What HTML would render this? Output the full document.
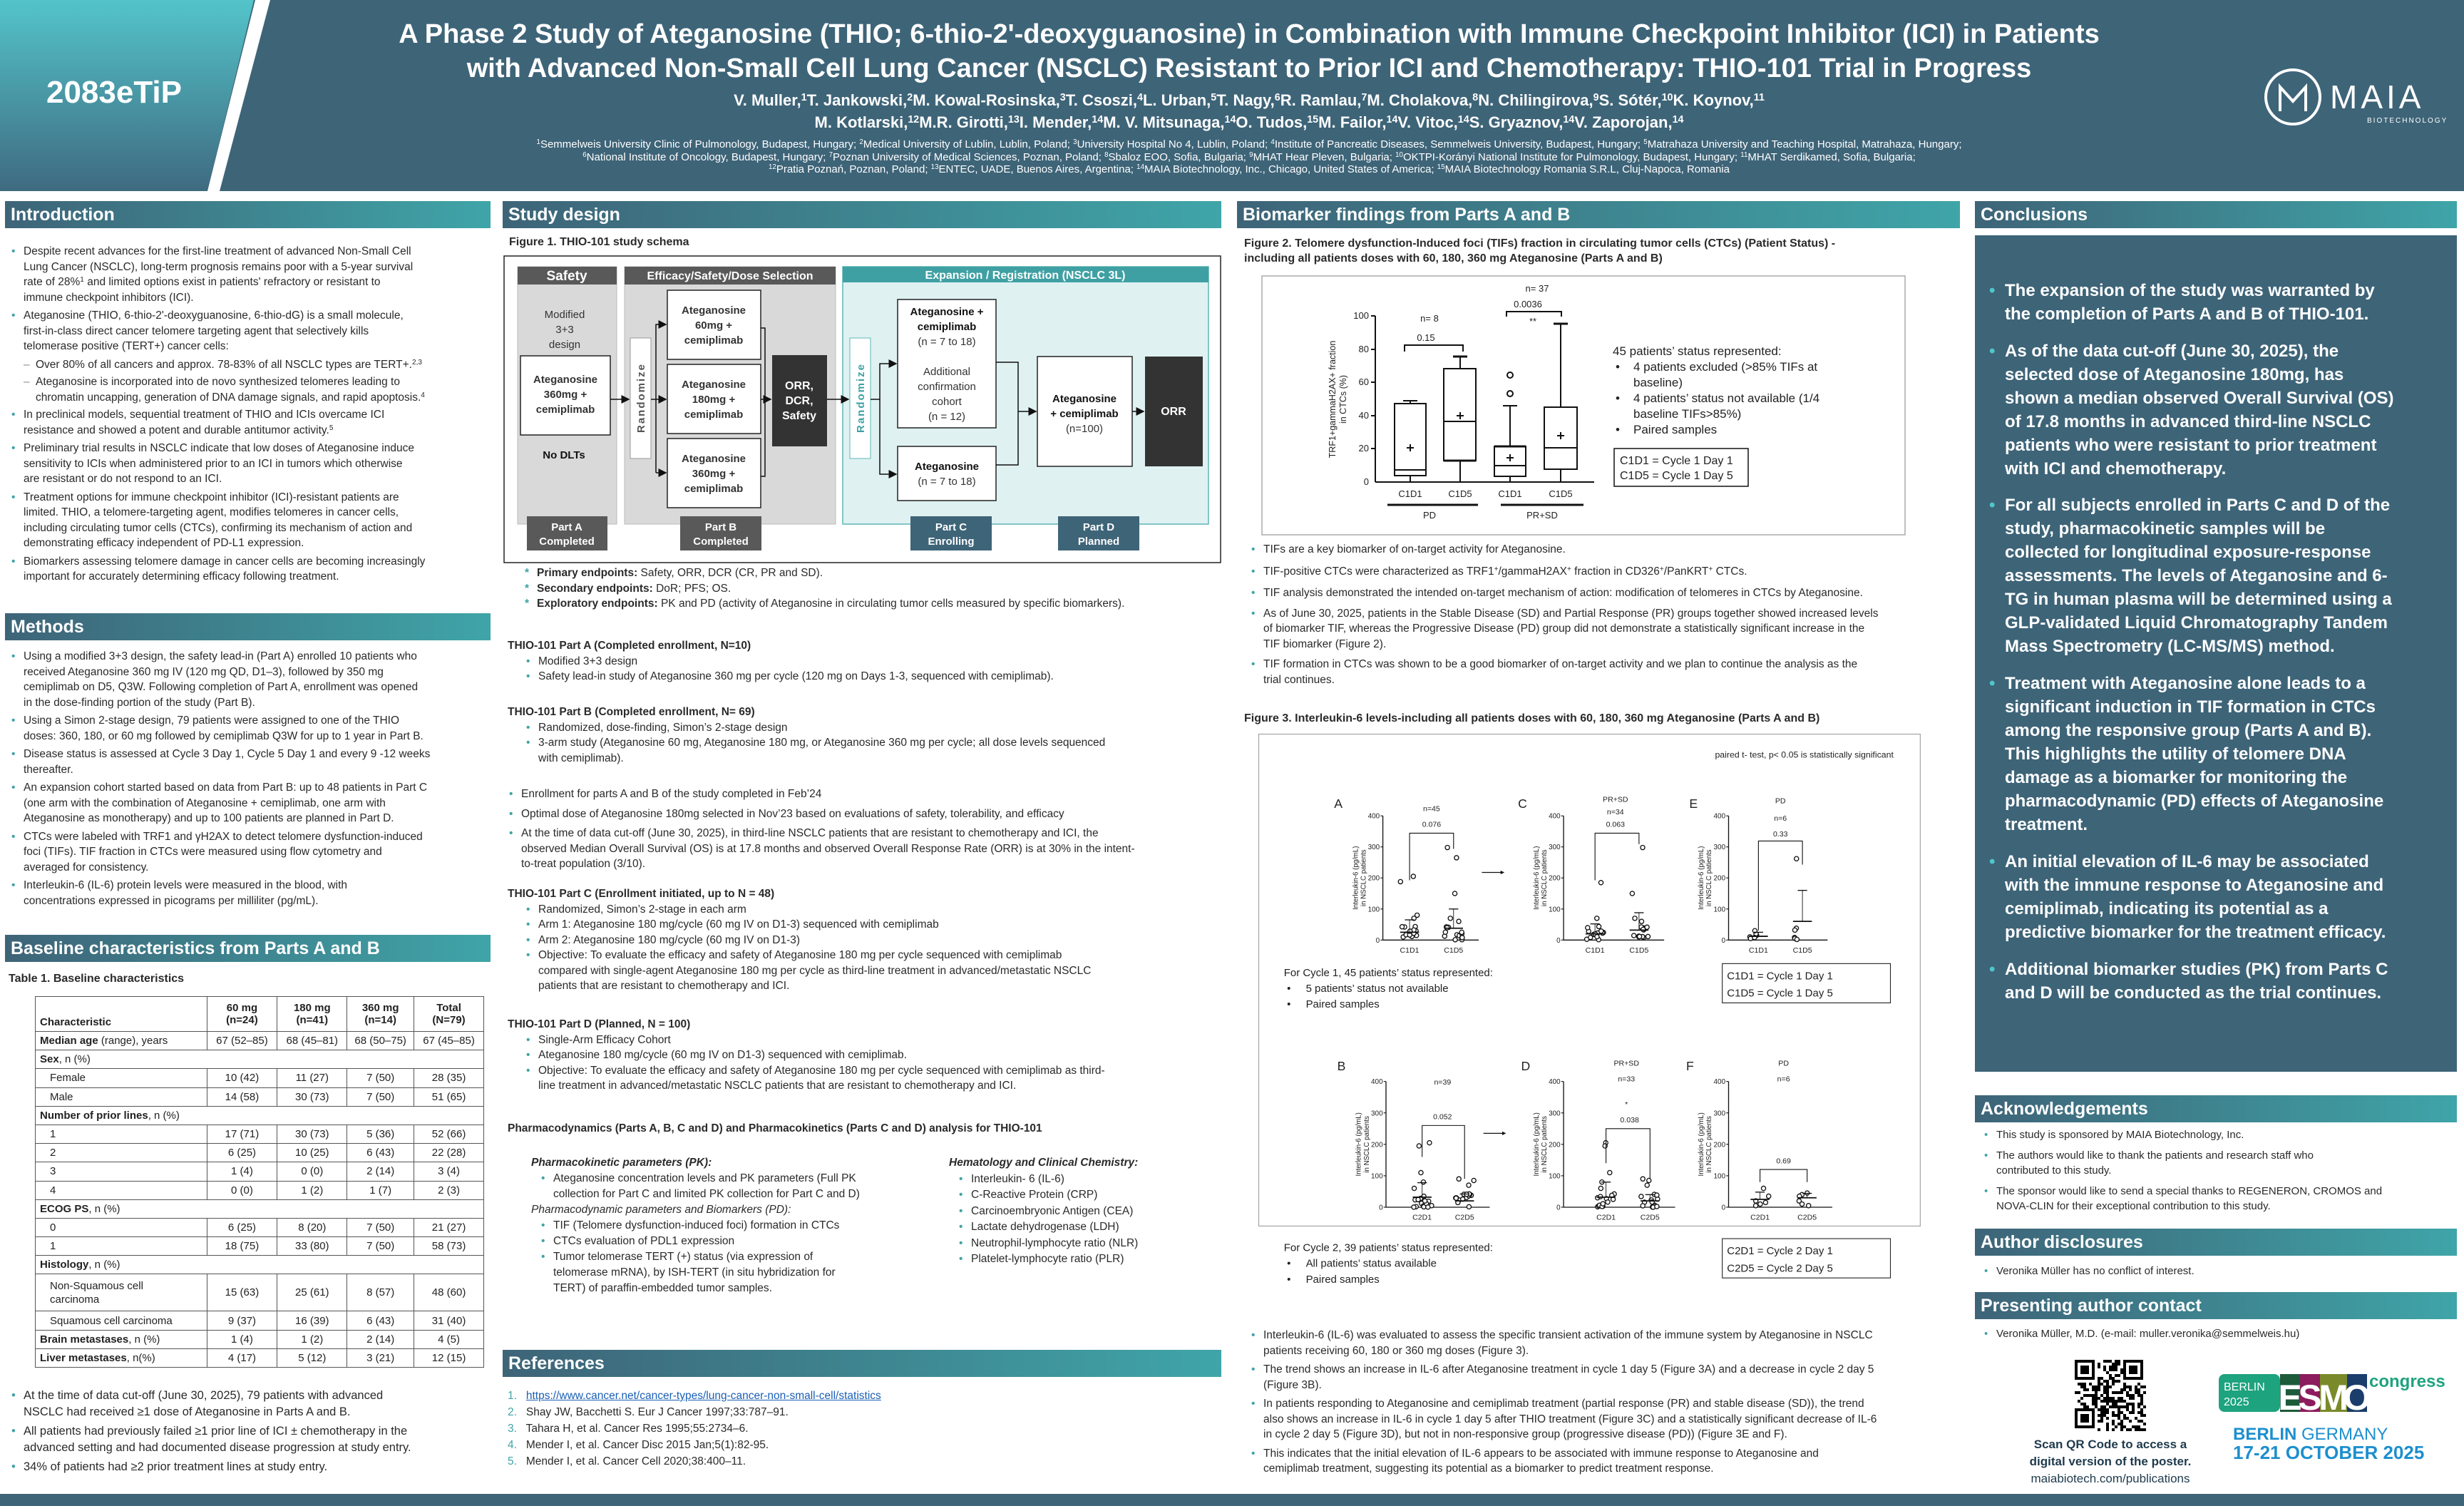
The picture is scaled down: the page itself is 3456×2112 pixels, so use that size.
<!DOCTYPE html>
<html><head><meta charset="utf-8">
<style>
*{margin:0;padding:0;box-sizing:border-box}
body{width:3456px;height:2112px;position:relative;background:#fff;overflow:hidden;font-family:"Liberation Sans",sans-serif;color:#222}
sup{font-size:0.65em;line-height:0;vertical-align:0.5em}
.abs{position:absolute}
.hd{position:absolute;height:38px;background:linear-gradient(90deg,#3e6478,#3fa5a8);color:#fff;font:bold 25px/38px "Liberation Sans",sans-serif;padding-left:8px}
.t{position:absolute;font-size:15.5px;line-height:21.5px;white-space:nowrap;color:#2a2a2a}
.b{padding-left:17px;text-indent:-17px;margin-bottom:4px}
.b::before{content:"•";color:#3fa3a6;display:inline-block;width:17px;text-indent:0}
.s{padding-left:34px;text-indent:-17px;margin-bottom:3px}
.s::before{content:"–";color:#888;display:inline-block;width:17px;text-indent:0}
.bh{font-weight:bold}
.st{padding-left:17px;text-indent:-17px}
.st::before{content:"*";color:#3fa3a6;font-weight:bold;display:inline-block;width:17px;text-indent:0}
.cl{position:absolute;left:2790px;color:#fff;font:bold 24px/33px "Liberation Sans",sans-serif;white-space:nowrap;padding-left:22px;text-indent:-22px}
.cl::before{content:"•";color:#4fc6cc;display:inline-block;width:22px;text-indent:0}
table{border-collapse:collapse;font-size:15px}
td{border:1.5px solid #555;height:26.2px;padding:0 6px;white-space:nowrap}
td.c{text-align:center}
</style></head><body>

<!-- HEADER -->
<div class="abs" style="left:0;top:0;width:3456px;height:268px;background:#3e6478"></div>
<svg class="abs" style="left:0;top:0" width="400" height="268">
<defs><linearGradient id="tg" x1="0" y1="0" x2="0" y2="1"><stop offset="0" stop-color="#53c4ca"/><stop offset="1" stop-color="#3f6a80"/></linearGradient></defs>
<polygon points="0,0 356,0 291,268 0,268" fill="url(#tg)"/>
<polygon points="358,0 379,0 308,268 291,268" fill="#fff"/>
</svg>
<div class="abs" style="left:0;top:104px;width:320px;text-align:center;color:#fff;font:bold 44px/52px 'Liberation Sans',sans-serif">2083eTiP</div>
<div class="abs" style="left:380px;top:24px;width:2744px;text-align:center;color:#fff;font:bold 38px/48px 'Liberation Sans',sans-serif;white-space:nowrap">A Phase 2 Study of Ateganosine (THIO; 6-thio-2'-deoxyguanosine) in Combination with Immune Checkpoint Inhibitor (ICI) in Patients<br>with Advanced Non-Small Cell Lung Cancer (NSCLC) Resistant to Prior ICI and Chemotherapy: THIO-101 Trial in Progress</div>
<div class="abs" style="left:380px;top:125px;width:2744px;text-align:center;color:#fff;font:bold 22px/31px 'Liberation Sans',sans-serif;white-space:nowrap">V. Muller,<sup>1</sup>T. Jankowski,<sup>2</sup>M. Kowal-Rosinska,<sup>3</sup>T. Csoszi,<sup>4</sup>L. Urban,<sup>5</sup>T. Nagy,<sup>6</sup>R. Ramlau,<sup>7</sup>M. Cholakova,<sup>8</sup>N. Chilingirova,<sup>9</sup>S. Sótér,<sup>10</sup>K. Koynov,<sup>11</sup><br>M. Kotlarski,<sup>12</sup>M.R. Girotti,<sup>13</sup>I. Mender,<sup>14</sup>M. V. Mitsunaga,<sup>14</sup>O. Tudos,<sup>15</sup>M. Failor,<sup>14</sup>V. Vitoc,<sup>14</sup>S. Gryaznov,<sup>14</sup>V. Zaporojan,<sup>14</sup></div>
<div class="abs" style="left:380px;top:194px;width:2744px;text-align:center;color:#fff;font:15px/17.5px 'Liberation Sans',sans-serif;white-space:nowrap"><sup>1</sup>Semmelweis University Clinic of Pulmonology, Budapest, Hungary; <sup>2</sup>Medical University of Lublin, Lublin, Poland; <sup>3</sup>University Hospital No 4, Lublin, Poland; <sup>4</sup>Institute of Pancreatic Diseases, Semmelweis University, Budapest, Hungary; <sup>5</sup>Matrahaza University and Teaching Hospital, Matrahaza, Hungary;<br><sup>6</sup>National Institute of Oncology, Budapest, Hungary; <sup>7</sup>Poznan University of Medical Sciences, Poznan, Poland; <sup>8</sup>Sbaloz EOO, Sofia, Bulgaria; <sup>9</sup>MHAT Hear Pleven, Bulgaria; <sup>10</sup>OKTPI-Korányi National Institute for Pulmonology, Budapest, Hungary; <sup>11</sup>MHAT Serdikamed, Sofia, Bulgaria;<br><sup>12</sup>Pratia Poznań, Poznan, Poland; <sup>13</sup>ENTEC, UADE, Buenos Aires, Argentina; <sup>14</sup>MAIA Biotechnology, Inc., Chicago, United States of America; <sup>15</sup>MAIA Biotechnology Romania S.R.L, Cluj-Napoca, Romania</div>
<svg class="abs" style="left:3170px;top:92px" width="270" height="90">
<circle cx="46" cy="44" r="38" fill="none" stroke="#fff" stroke-width="4"/>
<path d="M28 64 V30 L46 50 L64 30 V64" fill="none" stroke="#fff" stroke-width="4"/>
<text x="98" y="60" fill="#fff" font-family="Liberation Sans" font-size="46" letter-spacing="5">MAIA</text>
<text x="150" y="80" fill="#fff" font-family="Liberation Sans" font-size="10" letter-spacing="2">BIOTECHNOLOGY</text>
</svg>

<!-- SECTION HEADERS -->
<div class="hd" style="left:7px;top:282px;width:681px">Introduction</div>
<div class="hd" style="left:705px;top:282px;width:1008px">Study design</div>
<div class="hd" style="left:1735px;top:282px;width:1014px">Biomarker findings from Parts A and B</div>
<div class="hd" style="left:2770px;top:282px;width:676px">Conclusions</div>
<div class="hd" style="left:7px;top:860px;width:681px">Methods</div>
<div class="hd" style="left:7px;top:1311px;width:681px">Baseline characteristics from Parts A and B</div>
<div class="hd" style="left:705px;top:1893px;width:1008px">References</div>
<div class="hd" style="left:2770px;top:1536px;width:676px">Acknowledgements</div>
<div class="hd" style="left:2770px;top:1723px;width:676px">Author disclosures</div>
<div class="hd" style="left:2770px;top:1812px;width:676px">Presenting author contact</div>

<!-- COL 1 -->
<div class="t" style="left:16px;top:342px">
<div class="b">Despite recent advances for the first-line treatment of advanced Non-Small Cell<br>Lung Cancer (NSCLC), long-term prognosis remains poor with a 5-year survival<br>rate of 28%<sup>1</sup> and limited options exist in patients' refractory or resistant to<br>immune checkpoint inhibitors (ICI).</div>
<div class="b">Ateganosine (THIO, 6-thio-2'-deoxyguanosine, 6-thio-dG) is a small molecule,<br>first-in-class direct cancer telomere targeting agent that selectively kills<br>telomerase positive (TERT+) cancer cells:</div>
<div class="s">Over 80% of all cancers and approx. 78-83% of all NSCLC types are TERT+.<sup>2,3</sup></div>
<div class="s">Ateganosine is incorporated into de novo synthesized telomeres leading to<br>chromatin uncapping, generation of DNA damage signals, and rapid apoptosis.<sup>4</sup></div>
<div class="b">In preclinical models, sequential treatment of THIO and ICIs overcame ICI<br>resistance and showed a potent and durable antitumor activity.<sup>5</sup></div>
<div class="b">Preliminary trial results in NSCLC indicate that low doses of Ateganosine induce<br>sensitivity to ICIs when administered prior to an ICI in tumors which otherwise<br>are resistant or do not respond to an ICI.</div>
<div class="b">Treatment options for immune checkpoint inhibitor (ICI)-resistant patients are<br>limited. THIO, a telomere-targeting agent, modifies telomeres in cancer cells,<br>including circulating tumor cells (CTCs), confirming its mechanism of action and<br>demonstrating efficacy independent of PD-L1 expression.</div>
<div class="b">Biomarkers assessing telomere damage in cancer cells are becoming increasingly<br>important for accurately determining efficacy following treatment.</div>
</div>
<div class="t" style="left:16px;top:910px">
<div class="b">Using a modified 3+3 design, the safety lead-in (Part A) enrolled 10 patients who<br>received Ateganosine 360 mg IV (120 mg QD, D1–3), followed by 350 mg<br>cemiplimab on D5, Q3W. Following completion of Part A, enrollment was opened<br>in the dose-finding portion of the study (Part B).</div>
<div class="b">Using a Simon 2-stage design, 79 patients were assigned to one of the THIO<br>doses: 360, 180, or 60 mg followed by cemiplimab Q3W for up to 1 year in Part B.</div>
<div class="b">Disease status is assessed at Cycle 3 Day 1, Cycle 5 Day 1 and every 9 -12 weeks<br>thereafter.</div>
<div class="b">An expansion cohort started based on data from Part B: up to 48 patients in Part C<br>(one arm with the combination of Ateganosine + cemiplimab, one arm with<br>Ateganosine as monotherapy) and up to 100 patients are planned in Part D.</div>
<div class="b">CTCs were labeled with TRF1 and γH2AX to detect telomere dysfunction-induced<br>foci (TIFs). TIF fraction in CTCs were measured using flow cytometry and<br>averaged for consistency.</div>
<div class="b">Interleukin-6 (IL-6) protein levels were measured in the blood, with<br>concentrations expressed in picograms per milliliter (pg/mL).</div>
</div>
<div class="t" style="left:12px;top:1362px;font-weight:bold;font-size:16px">Table 1. Baseline characteristics</div>
<table class="abs" style="left:49px;top:1397px;width:630px">
<colgroup><col style="width:241px"><col style="width:99px"><col style="width:98px"><col style="width:94px"><col style="width:98px"></colgroup>
<tr style="height:49px;font-weight:bold"><td style="vertical-align:bottom;padding-bottom:4px">Characteristic</td><td class="c">60 mg<br>(n=24)</td><td class="c">180 mg<br>(n=41)</td><td class="c">360 mg<br>(n=14)</td><td class="c">Total<br>(N=79)</td></tr>
<tr><td><b>Median age</b> (range), years</td><td class="c">67 (52–85)</td><td class="c">68 (45–81)</td><td class="c">68 (50–75)</td><td class="c">67 (45–85)</td></tr>
<tr><td colspan="5"><b>Sex</b>, n (%)</td></tr>
<tr><td style="padding-left:20px">Female</td><td class="c">10 (42)</td><td class="c">11 (27)</td><td class="c">7 (50)</td><td class="c">28 (35)</td></tr>
<tr><td style="padding-left:20px">Male</td><td class="c">14 (58)</td><td class="c">30 (73)</td><td class="c">7 (50)</td><td class="c">51 (65)</td></tr>
<tr><td colspan="5"><b>Number of prior lines</b>, n (%)</td></tr>
<tr><td style="padding-left:20px">1</td><td class="c">17 (71)</td><td class="c">30 (73)</td><td class="c">5 (36)</td><td class="c">52 (66)</td></tr>
<tr><td style="padding-left:20px">2</td><td class="c">6 (25)</td><td class="c">10 (25)</td><td class="c">6 (43)</td><td class="c">22 (28)</td></tr>
<tr><td style="padding-left:20px">3</td><td class="c">1 (4)</td><td class="c">0 (0)</td><td class="c">2 (14)</td><td class="c">3 (4)</td></tr>
<tr><td style="padding-left:20px">4</td><td class="c">0 (0)</td><td class="c">1 (2)</td><td class="c">1 (7)</td><td class="c">2 (3)</td></tr>
<tr><td colspan="5"><b>ECOG PS</b>, n (%)</td></tr>
<tr><td style="padding-left:20px">0</td><td class="c">6 (25)</td><td class="c">8 (20)</td><td class="c">7 (50)</td><td class="c">21 (27)</td></tr>
<tr><td style="padding-left:20px">1</td><td class="c">18 (75)</td><td class="c">33 (80)</td><td class="c">7 (50)</td><td class="c">58 (73)</td></tr>
<tr><td colspan="5"><b>Histology</b>, n (%)</td></tr>
<tr style="height:52px"><td style="padding-left:20px;line-height:19px">Non-Squamous cell<br>carcinoma</td><td class="c">15 (63)</td><td class="c">25 (61)</td><td class="c">8 (57)</td><td class="c">48 (60)</td></tr>
<tr><td style="padding-left:20px">Squamous cell carcinoma</td><td class="c">9 (37)</td><td class="c">16 (39)</td><td class="c">6 (43)</td><td class="c">31 (40)</td></tr>
<tr><td><b>Brain metastases</b>, n (%)</td><td class="c">1 (4)</td><td class="c">1 (2)</td><td class="c">2 (14)</td><td class="c">4 (5)</td></tr>
<tr><td><b>Liver metastases</b>, n(%)</td><td class="c">4 (17)</td><td class="c">5 (12)</td><td class="c">3 (21)</td><td class="c">12 (15)</td></tr>
</table>
<div class="t" style="left:16px;top:1946px;font-size:16.5px;line-height:23px">
<div class="b">At the time of data cut-off (June 30, 2025), 79 patients with advanced<br>NSCLC had received ≥1 dose of Ateganosine in Parts A and B.</div>
<div class="b">All patients had previously failed ≥1 prior line of ICI ± chemotherapy in the<br>advanced setting and had documented disease progression at study entry.</div>
<div class="b">34% of patients had ≥2 prior treatment lines at study entry.</div>
</div>

<!-- COL 2 -->
<div class="t" style="left:714px;top:329px;font-weight:bold;font-size:16px">Figure 1. THIO-101 study schema</div>
<svg class="abs" style="left:0;top:0" width="3456" height="2112" font-family="Liberation Sans">
<defs><marker id="ar" markerWidth="8" markerHeight="8" refX="7" refY="4" orient="auto"><path d="M0,0 L8,4 L0,8z" fill="#111"/></marker></defs>
<rect x="707" y="359" width="1005" height="430" fill="#fff" stroke="#222" stroke-width="1.5"/>
<rect x="726" y="374" width="139" height="361" fill="#d9d9d9" stroke="#bbb"/>
<rect x="726" y="374" width="139" height="25" fill="#595959"/>
<text x="795" y="393" fill="#fff" font-size="19" font-weight="bold" text-anchor="middle">Safety</text>
<rect x="876" y="374" width="296" height="361" fill="#d9d9d9" stroke="#bbb"/>
<rect x="876" y="374" width="296" height="25" fill="#595959"/>
<text x="1024" y="392" fill="#fff" font-size="16" font-weight="bold" text-anchor="middle">Efficacy/Safety/Dose Selection</text>
<rect x="1182" y="374" width="513" height="361" fill="#dff1f1" stroke="#5fb6b8" stroke-width="1.5"/>
<rect x="1182" y="374" width="513" height="22" fill="#3fa0a3"/>
<text x="1438" y="391" fill="#fff" font-size="16" font-weight="bold" text-anchor="middle">Expansion / Registration (NSCLC 3L)</text>
<g font-size="15" text-anchor="middle" fill="#333">
<text x="792" y="446">Modified</text><text x="792" y="467">3+3</text><text x="792" y="488">design</text>
<rect x="730" y="499" width="126" height="111" fill="#fff" stroke="#222" stroke-width="1.5"/>
<text x="793" y="537" font-weight="bold">Ateganosine</text><text x="793" y="558" font-weight="bold">360mg +</text><text x="793" y="579" font-weight="bold">cemiplimab</text>
<text x="791" y="643" font-weight="bold" fill="#111">No DLTs</text>
<rect x="884" y="474" width="29" height="169" fill="#fff" stroke="#999"/>
<text transform="translate(904,558) rotate(-90)" font-weight="bold" font-size="15" fill="#555" letter-spacing="2">Randomize</text>
<rect x="936" y="407" width="131" height="97" fill="#fff" stroke="#222" stroke-width="1.5"/>
<text x="1001" y="440" font-weight="bold">Ateganosine</text><text x="1001" y="461" font-weight="bold">60mg +</text><text x="1001" y="482" font-weight="bold">cemiplimab</text>
<rect x="936" y="511" width="131" height="97" fill="#fff" stroke="#222" stroke-width="1.5"/>
<text x="1001" y="544" font-weight="bold">Ateganosine</text><text x="1001" y="565" font-weight="bold">180mg +</text><text x="1001" y="586" font-weight="bold">cemiplimab</text>
<rect x="936" y="615" width="131" height="97" fill="#fff" stroke="#222" stroke-width="1.5"/>
<text x="1001" y="648" font-weight="bold">Ateganosine</text><text x="1001" y="669" font-weight="bold">360mg +</text><text x="1001" y="690" font-weight="bold">cemiplimab</text>
<rect x="1083" y="498" width="77" height="128" fill="#333"/>
<text x="1121" y="546" fill="#fff" font-weight="bold" font-size="16">ORR,</text><text x="1121" y="567" fill="#fff" font-weight="bold" font-size="16">DCR,</text><text x="1121" y="588" fill="#fff" font-weight="bold" font-size="16">Safety</text>
<rect x="1192" y="474" width="29" height="169" fill="#fff" stroke="#5fb6b8"/>
<text transform="translate(1212,558) rotate(-90)" font-weight="bold" font-size="15" fill="#3fa0a3" letter-spacing="2">Randomize</text>
<rect x="1259" y="420" width="138" height="180" fill="#fff" stroke="#222" stroke-width="1.5"/>
<text x="1328" y="442" font-weight="bold" fill="#111">Ateganosine +</text><text x="1328" y="463" font-weight="bold" fill="#111">cemiplimab</text><text x="1328" y="484">(n = 7 to 18)</text>
<text x="1328" y="526">Additional</text><text x="1328" y="547">confirmation</text><text x="1328" y="568">cohort</text><text x="1328" y="589">(n = 12)</text>
<rect x="1259" y="626" width="138" height="76" fill="#fff" stroke="#222" stroke-width="1.5"/>
<text x="1328" y="659" font-weight="bold" fill="#111">Ateganosine</text><text x="1328" y="680">(n = 7 to 18)</text>
<rect x="1455" y="500" width="133" height="154" fill="#fff" stroke="#222" stroke-width="1.5"/>
<text x="1521" y="564" font-weight="bold" fill="#111">Ateganosine</text><text x="1521" y="585" font-weight="bold" fill="#111">+ cemiplimab</text><text x="1521" y="606">(n=100)</text>
<rect x="1606" y="500" width="81" height="154" fill="#333"/>
<text x="1646" y="582" fill="#fff" font-weight="bold" font-size="16">ORR</text>
</g>
<g stroke="#111" stroke-width="1.5" fill="none">
<line x1="856" y1="560" x2="882" y2="560" marker-end="url(#ar)"/>
<line x1="913" y1="560" x2="934" y2="560" marker-end="url(#ar)"/>
<path d="M920 663 V455 H934" marker-end="url(#ar)"/>
<path d="M920 663 H934" marker-end="url(#ar)"/>
<path d="M1067 460 H1073 V668 H1067"/>
<line x1="1067" y1="560" x2="1081" y2="560" marker-end="url(#ar)"/>
<line x1="1160" y1="560" x2="1190" y2="560" marker-end="url(#ar)"/>
<path d="M1221 560 H1234 V510 H1257" marker-end="url(#ar)"/>
<path d="M1234 560 V665 H1257" marker-end="url(#ar)"/>
<path d="M1397 508 H1428 V652 H1397"/>
<line x1="1428" y1="577" x2="1453" y2="577" marker-end="url(#ar)"/>
<line x1="1588" y1="577" x2="1604" y2="577" marker-end="url(#ar)"/>
</g>
<g font-size="15" font-weight="bold" fill="#fff" text-anchor="middle">
<rect x="739" y="724" width="113" height="48" fill="#595959"/><text x="795" y="744">Part A</text><text x="795" y="764">Completed</text>
<rect x="954" y="724" width="114" height="48" fill="#595959"/><text x="1011" y="744">Part B</text><text x="1011" y="764">Completed</text>
<rect x="1277" y="724" width="114" height="48" fill="#3e6478"/><text x="1334" y="744">Part C</text><text x="1334" y="764">Enrolling</text>
<rect x="1484" y="724" width="114" height="48" fill="#3e6478"/><text x="1541" y="744">Part D</text><text x="1541" y="764">Planned</text>
</g>

<!-- FIG 2 -->
<rect x="1770" y="387" width="902" height="363" fill="#fff" stroke="#aaa" stroke-width="1.5"/>
<g stroke="#111" stroke-width="2" fill="none">
<line x1="1929" y1="443" x2="1929" y2="676"/><line x1="1929" y1="676" x2="2236" y2="676"/>
<line x1="1923" y1="443" x2="1929" y2="443"/><line x1="1923" y1="490" x2="1929" y2="490"/><line x1="1923" y1="536" x2="1929" y2="536"/><line x1="1923" y1="583" x2="1929" y2="583"/><line x1="1923" y1="629" x2="1929" y2="629"/>
<rect x="1956" y="566" width="44" height="101"/><line x1="1956" y1="659" x2="2000" y2="659"/><line x1="1978" y1="566" x2="1978" y2="562"/><line x1="1968" y1="562" x2="1988" y2="562"/><line x1="1978" y1="667" x2="1978" y2="676"/>
<rect x="2025" y="517" width="45" height="129"/><line x1="2025" y1="591" x2="2070" y2="591"/><line x1="2048" y1="517" x2="2048" y2="500"/><line x1="2038" y1="500" x2="2058" y2="500" stroke-width="3"/><line x1="2048" y1="646" x2="2048" y2="676"/><line x1="2025" y1="646" x2="2070" y2="646" stroke-width="3"/>
<rect x="2096" y="626" width="44" height="42"/><line x1="2096" y1="626" x2="2140" y2="626" stroke-width="3"/><line x1="2096" y1="653" x2="2140" y2="653"/><line x1="2118" y1="626" x2="2118" y2="569"/><line x1="2108" y1="569" x2="2128" y2="569"/><line x1="2118" y1="668" x2="2118" y2="676"/>
<circle cx="2118" cy="552" r="4"/><circle cx="2118" cy="526" r="4"/>
<rect x="2166" y="571" width="46" height="87"/><line x1="2166" y1="628" x2="2212" y2="628"/><line x1="2189" y1="571" x2="2189" y2="454"/><line x1="2179" y1="454" x2="2199" y2="454" stroke-width="3"/><line x1="2189" y1="658" x2="2189" y2="676"/>
<path d="M1973 628h10M1978 623v10M2043 583h10M2048 578v10M2113 642h10M2118 637v10M2184 611h10M2189 606v10"/>
<path d="M1970 493 V484 H2052 V493"/><path d="M2113 444 V437 H2190 V444"/>
<line x1="1946" y1="708" x2="2073" y2="708" stroke-width="3"/><line x1="2105" y1="708" x2="2221" y2="708" stroke-width="3"/>
<rect x="2264" y="629" width="188" height="53" stroke-width="1.5"/>
</g>
<g font-size="13" fill="#222" text-anchor="middle">
<text x="1920" y="447" text-anchor="end">100</text><text x="1920" y="494" text-anchor="end">80</text><text x="1920" y="540" text-anchor="end">60</text><text x="1920" y="587" text-anchor="end">40</text><text x="1920" y="633" text-anchor="end">20</text><text x="1920" y="680" text-anchor="end">0</text>
<text x="1978" y="697">C1D1</text><text x="2048" y="697">C1D5</text><text x="2118" y="697">C1D1</text><text x="2189" y="697">C1D5</text>
<text x="2005" y="727">PD</text><text x="2163" y="727">PR+SD</text>
<text x="2005" y="451">n= 8</text><text x="2000" y="478">0.15</text><text x="2156" y="409">n= 37</text><text x="2143" y="431">0.0036</text><text x="2150" y="455">**</text>
<text transform="translate(1873,560) rotate(-90)" font-size="12.5">TRF1+gammaH2AX+ fraction</text>
<text transform="translate(1888,560) rotate(-90)" font-size="12.5">in CTCs (%)</text>
</g>
<g font-size="17" fill="#222">
<text x="2262" y="498">45 patients’ status represented:</text>
<text x="2266" y="520">•</text><text x="2291" y="520">4 patients excluded (&gt;85% TIFs at</text><text x="2291" y="542">baseline)</text>
<text x="2266" y="564">•</text><text x="2291" y="564">4 patients’ status not available (1/4</text><text x="2291" y="586">baseline TIFs&gt;85%)</text>
<text x="2266" y="608">•</text><text x="2291" y="608">Paired samples</text>
<text x="2272" y="651" font-size="16">C1D1 = Cycle 1 Day 1</text><text x="2272" y="672" font-size="16">C1D5 = Cycle 1 Day 5</text>
</g>
</svg>

<div class="t" style="left:736px;top:793px">
<div class="st"><b>Primary endpoints:</b> Safety, ORR, DCR (CR, PR and SD).</div>
<div class="st"><b>Secondary endpoints:</b> DoR; PFS; OS.</div>
<div class="st"><b>Exploratory endpoints:</b> PK and PD (activity of Ateganosine in circulating tumor cells measured by specific biomarkers).</div>
</div>
<div class="t" style="left:712px;top:895px">
<div class="bh">THIO-101 Part A (Completed enrollment, N=10)</div>
<div style="padding-left:26px"><div class="b" style="margin:0">Modified 3+3 design</div><div class="b">Safety lead-in study of Ateganosine 360 mg per cycle (120 mg on Days 1-3, sequenced with cemiplimab).</div></div>
</div>
<div class="t" style="left:712px;top:988px">
<div class="bh">THIO-101 Part B (Completed enrollment, N= 69)</div>
<div style="padding-left:26px"><div class="b" style="margin:0">Randomized, dose-finding, Simon’s 2-stage design</div><div class="b">3-arm study (Ateganosine 60 mg, Ateganosine 180 mg, or Ateganosine 360 mg per cycle; all dose levels sequenced<br>with cemiplimab).</div></div>
</div>
<div class="t" style="left:714px;top:1103px">
<div class="b" style="margin-bottom:6px">Enrollment for parts A and B of the study completed in Feb’24</div>
<div class="b" style="margin-bottom:6px">Optimal dose of Ateganosine 180mg selected in Nov’23 based on evaluations of safety, tolerability, and efficacy</div>
<div class="b">At the time of data cut-off (June 30, 2025), in third-line NSCLC patients that are resistant to chemotherapy and ICI, the<br>observed Median Overall Survival (OS) is at 17.8 months and observed Overall Response Rate (ORR) is at 30% in the intent-<br>to-treat population (3/10).</div>
</div>
<div class="t" style="left:712px;top:1243px">
<div class="bh">THIO-101 Part C (Enrollment initiated, up to N = 48)</div>
<div style="padding-left:26px"><div class="b" style="margin:0">Randomized, Simon’s 2-stage in each arm</div><div class="b" style="margin:0">Arm 1: Ateganosine 180 mg/cycle (60 mg IV on D1-3) sequenced with cemiplimab</div><div class="b" style="margin:0">Arm 2: Ateganosine 180 mg/cycle (60 mg IV on D1-3)</div><div class="b">Objective: To evaluate the efficacy and safety of Ateganosine 180 mg per cycle sequenced with cemiplimab<br>compared with single-agent Ateganosine 180 mg per cycle as third-line treatment in advanced/metastatic NSCLC<br>patients that are resistant to chemotherapy and ICI.</div></div>
</div>
<div class="t" style="left:712px;top:1426px">
<div class="bh">THIO-101 Part D (Planned, N = 100)</div>
<div style="padding-left:26px"><div class="b" style="margin:0">Single-Arm Efficacy Cohort</div><div class="b" style="margin:0">Ateganosine 180 mg/cycle (60 mg IV on D1-3) sequenced with cemiplimab.</div><div class="b">Objective: To evaluate the efficacy and safety of Ateganosine 180 mg per cycle sequenced with cemiplimab as third-<br>line treatment in advanced/metastatic NSCLC patients that are resistant to chemotherapy and ICI.</div></div>
</div>
<div class="t bh" style="left:712px;top:1572px">Pharmacodynamics (Parts A, B, C and D) and Pharmacokinetics (Parts C and D) analysis for THIO-101</div>
<div class="t" style="left:745px;top:1620px;line-height:22px">
<div><b><i>Pharmacokinetic parameters (PK):</i></b></div>
<div style="padding-left:14px"><div class="b" style="margin:0">Ateganosine concentration levels and PK parameters (Full PK<br>collection for Part C and limited PK collection for Part C and D)</div></div>
<div><i>Pharmacodynamic parameters and Biomarkers (PD):</i></div>
<div style="padding-left:14px"><div class="b" style="margin:0">TIF (Telomere dysfunction-induced foci) formation in CTCs</div><div class="b" style="margin:0">CTCs evaluation of PDL1 expression</div><div class="b" style="margin:0">Tumor telomerase TERT (+) status (via expression of<br>telomerase mRNA), by ISH-TERT (in situ hybridization for<br>TERT) of paraffin-embedded tumor samples.</div></div>
</div>
<div class="t" style="left:1331px;top:1620px;line-height:22.5px">
<div><b><i>Hematology and Clinical Chemistry:</i></b></div>
<div style="padding-left:14px"><div class="b" style="margin:0">Interleukin- 6 (IL-6)</div><div class="b" style="margin:0">C-Reactive Protein (CRP)</div><div class="b" style="margin:0">Carcinoembryonic Antigen (CEA)</div><div class="b" style="margin:0">Lactate dehydrogenase (LDH)</div><div class="b" style="margin:0">Neutrophil-lymphocyte ratio (NLR)</div><div class="b" style="margin:0">Platelet-lymphocyte ratio (PLR)</div></div>
</div>
<div class="t" style="left:712px;top:1946px;line-height:23px">
<div><span style="color:#3fa3a6">1.</span>&nbsp;&nbsp; <span style="color:#1a5fb4;text-decoration:underline">https://www.cancer.net/cancer-types/lung-cancer-non-small-cell/statistics</span></div>
<div><span style="color:#3fa3a6">2.</span>&nbsp;&nbsp; Shay JW, Bacchetti S. Eur J Cancer 1997;33:787–91.</div>
<div><span style="color:#3fa3a6">3.</span>&nbsp;&nbsp; Tahara H, et al. Cancer Res 1995;55:2734–6.</div>
<div><span style="color:#3fa3a6">4.</span>&nbsp;&nbsp; Mender I, et al. Cancer Disc 2015 Jan;5(1):82-95.</div>
<div><span style="color:#3fa3a6">5.</span>&nbsp;&nbsp; Mender I, et al. Cancer Cell 2020;38:400–11.</div>
</div>

<!-- COL 3 -->
<div class="t" style="left:1745px;top:331px;font-weight:bold;font-size:16px;line-height:21px">Figure 2. Telomere dysfunction-Induced foci (TIFs) fraction in circulating tumor cells (CTCs) (Patient Status) -<br>including all patients doses with 60, 180, 360 mg Ateganosine (Parts A and B)</div>
<div class="t" style="left:1755px;top:760px">
<div class="b" style="margin-bottom:9px">TIFs are a key biomarker of on-target activity for Ateganosine.</div>
<div class="b" style="margin-bottom:9px">TIF-positive CTCs were characterized as TRF1<sup>+</sup>/gammaH2AX<sup>+</sup> fraction in CD326<sup>+</sup>/PanKRT<sup>+</sup> CTCs.</div>
<div class="b" style="margin-bottom:7px">TIF analysis demonstrated the intended on-target mechanism of action: modification of telomeres in CTCs by Ateganosine.</div>
<div class="b" style="margin-bottom:7px">As of June 30, 2025, patients in the Stable Disease (SD) and Partial Response (PR) groups together showed increased levels<br>of biomarker TIF, whereas the Progressive Disease (PD) group did not demonstrate a statistically significant increase in the<br>TIF biomarker (Figure 2).</div>
<div class="b">TIF formation in CTCs was shown to be a good biomarker of on-target activity and we plan to continue the analysis as the<br>trial continues.</div>
</div>
<div class="t" style="left:1745px;top:997px;font-weight:bold;font-size:16px">Figure 3. Interleukin-6 levels-including all patients doses with 60, 180, 360 mg Ateganosine (Parts A and B)</div>
<div class="t" style="left:1755px;top:1862px">
<div class="b" style="margin-bottom:5px">Interleukin-6 (IL-6) was evaluated to assess the specific transient activation of the immune system by Ateganosine in NSCLC<br>patients receiving 60, 180 or 360 mg doses (Figure 3).</div>
<div class="b" style="margin-bottom:5px">The trend shows an increase in IL-6 after Ateganosine treatment in cycle 1 day 5 (Figure 3A) and a decrease in cycle 2 day 5<br>(Figure 3B).</div>
<div class="b" style="margin-bottom:5px">In patients responding to Ateganosine and cemiplimab treatment (partial response (PR) and stable disease (SD)), the trend<br>also shows an increase in IL-6 in cycle 1 day 5 after THIO treatment (Figure 3C) and a statistically significant decrease of IL-6<br>in cycle 2 day 5 (Figure 3D), but not in non-responsive group (progressive disease (PD)) (Figure 3E and F).</div>
<div class="b">This indicates that the initial elevation of IL-6 appears to be associated with immune response to Ateganosine and<br>cemiplimab treatment, suggesting its potential as a biomarker to predict treatment response.</div>
</div>

<!-- FIG 3 (thumbnail coordinates) -->
<svg id="f3" class="abs" style="left:0;top:0" width="3456" height="2112" viewBox="0 0 1568 958" font-family="Liberation Sans">
<defs><marker id="ar2" markerWidth="4" markerHeight="4" refX="3.5" refY="2" orient="auto"><path d="M0,0 L4,2 L0,4z" fill="#111"/></marker></defs>
<rect x="801" y="467" width="421" height="313" fill="none" stroke="#aaa" stroke-width="0.6"/>
<text x="1205" y="482" font-size="5.6" text-anchor="end" fill="#222">paired t- test, p&lt; 0.05 is statistically significant</text>
<g font-size="6.8" fill="#222">
<text x="817" y="621">For Cycle 1, 45 patients’ status represented:</text>
<text x="819" y="631">•</text><text x="831" y="631">5 patients’ status not available</text>
<text x="819" y="641">•</text><text x="831" y="641">Paired samples</text>
<rect x="1096" y="613" width="107" height="25" fill="none" stroke="#222" stroke-width="0.5"/>
<text x="1099" y="623">C1D1 = Cycle 1 Day 1</text><text x="1099" y="634">C1D5 = Cycle 1 Day 5</text>
<text x="817" y="796">For Cycle 2, 39 patients’ status represented:</text>
<text x="819" y="806">•</text><text x="831" y="806">All patients’ status available</text>
<text x="819" y="816">•</text><text x="831" y="816">Paired samples</text>
<rect x="1096" y="788" width="107" height="25" fill="none" stroke="#222" stroke-width="0.5"/>
<text x="1099" y="798">C2D1 = Cycle 2 Day 1</text><text x="1099" y="809">C2D5 = Cycle 2 Day 5</text>
</g>
<g id="charts"></g>
</svg>

<!-- COL 4 -->
<div class="abs" style="left:2770px;top:330px;width:676px;height:1173px;background:#3e6478"></div>
<div class="cl" style="top:391px">The expansion of the study was warranted by<br>the completion of Parts A and B of THIO-101.</div>
<div class="cl" style="top:476px">As of the data cut-off (June 30, 2025), the<br>selected dose of Ateganosine 180mg, has<br>shown a median observed Overall Survival (OS)<br>of 17.8 months in advanced third-line NSCLC<br>patients who were resistant to prior treatment<br>with ICI and chemotherapy.</div>
<div class="cl" style="top:692px">For all subjects enrolled in Parts C and D of the<br>study, pharmacokinetic samples will be<br>collected for longitudinal exposure-response<br>assessments. The levels of Ateganosine and 6-<br>TG in human plasma will be determined using a<br>GLP-validated Liquid Chromatography Tandem<br>Mass Spectrometry (LC-MS/MS) method.</div>
<div class="cl" style="top:942px">Treatment with Ateganosine alone leads to a<br>significant induction in TIF formation in CTCs<br>among the responsive group (Parts A and B).<br>This highlights the utility of telomere DNA<br>damage as a biomarker for monitoring the<br>pharmacodynamic (PD) effects of Ateganosine<br>treatment.</div>
<div class="cl" style="top:1192px">An initial elevation of IL-6 may be associated<br>with the immune response to Ateganosine and<br>cemiplimab, indicating its potential as a<br>predictive biomarker for the treatment efficacy.</div>
<div class="cl" style="top:1343px">Additional biomarker studies (PK) from Parts C<br>and D will be conducted as the trial continues.</div>

<div class="t" style="left:2783px;top:1581px;font-size:15px">
<div class="b" style="margin-bottom:7px">This study is sponsored by MAIA Biotechnology, Inc.</div>
<div class="b" style="margin-bottom:7px">The authors would like to thank the patients and research staff who<br>contributed to this study.</div>
<div class="b">The sponsor would like to send a special thanks to REGENERON, CROMOS and<br>NOVA-CLIN for their exceptional contribution to this study.</div>
</div>
<div class="t" style="left:2783px;top:1772px;font-size:15px"><div class="b">Veronika Müller has no conflict of interest.</div></div>
<div class="t" style="left:2783px;top:1860px;font-size:15px"><div class="b">Veronika Müller, M.D. (e-mail: muller.veronika@semmelweis.hu)</div></div>

<svg class="abs" style="left:2909px;top:1907px" width="102" height="100" id="qr"></svg>
<div class="abs" style="left:2820px;top:2014px;width:280px;text-align:center;color:#1e3a4c;font:bold 17px/24px 'Liberation Sans',sans-serif">Scan QR Code to access a<br>digital version of the poster.<br><span style="font-weight:normal">maiabiotech.com/publications</span></div>
<svg class="abs" style="left:3105px;top:1915px" width="330" height="150" font-family="Liberation Sans">
<rect x="7" y="12" width="86" height="53" rx="8" fill="#1ea37f"/>
<text x="14" y="35" fill="#fff" font-size="16">BERLIN</text><text x="14" y="56" fill="#fff" font-size="16">2025</text>
<rect x="93" y="12" width="28" height="53" fill="#1d5a3a"/>
<rect x="121" y="12" width="28" height="53" fill="#8c1c5d"/>
<rect x="149" y="12" width="38" height="53" fill="#7a8a2a"/>
<rect x="187" y="12" width="28" height="53" fill="#1a3d6b"/>
<g fill="#fff" font-size="50" font-weight="bold" text-anchor="middle">
<text x="107" y="62">E</text><text x="135" y="62">S</text><text x="168" y="62">M</text><text x="201" y="62">O</text></g>
<text x="218" y="30" fill="#1ea37f" font-size="24" font-weight="bold">congress</text>
<text x="27" y="104" fill="#1d8fce" font-size="24" font-weight="bold">BERLIN <tspan font-weight="normal">GERMANY</tspan></text>
<text x="27" y="131" fill="#1d8fce" font-size="26" font-weight="bold">17-21 OCTOBER 2025</text>
</svg>

<div class="abs" style="left:0;top:2095px;width:3456px;height:17px;background:#3e6478"></div>

<script>
(function(){
var NS="http://www.w3.org/2000/svg",g=document.getElementById("charts");
function el(t,a,p){var e=document.createElementNS(NS,t);for(var k in a)e.setAttribute(k,a[k]);(p||g).appendChild(e);return e}
function txt(x,y,s,sz,anc){var e=el("text",{x:x,y:y,"font-size":sz||4.5,"text-anchor":anc||"middle",fill:"#222"});e.textContent=s}
var seed=3;function rnd(){seed=(seed*9301+49297)%233280;return seed/233280}
function chart(o){
 var ax=o.ax,yt=o.yt,yb=o.yb,h=yb-yt;function Y(v){return yb-v/400*h}
 el("line",{x1:ax,y1:yt,x2:ax,y2:yb,stroke:"#111","stroke-width":0.6});
 el("line",{x1:ax,y1:yb,x2:o.xs[1]+16,y2:yb,stroke:"#111","stroke-width":0.6});
 [0,100,200,300,400].forEach(function(v){el("line",{x1:ax-1.5,y1:Y(v),x2:ax,y2:Y(v),stroke:"#111","stroke-width":0.5});txt(ax-2,Y(v)+1.6,String(v),4.5,"end")});
 var t1=el("text",{transform:"translate("+(ax-16)+","+((yt+yb)/2)+") rotate(-90)","font-size":4.4,"text-anchor":"middle",fill:"#222"});t1.textContent="Interleukin-6 (pg/mL)";
 var t2=el("text",{transform:"translate("+(ax-11)+","+((yt+yb)/2)+") rotate(-90)","font-size":4.4,"text-anchor":"middle",fill:"#222"});t2.textContent="in NSCLC patients";
 txt(o.xs[0],yb+8,o.lab[0],4.8);txt(o.xs[1],yb+8,o.lab[1],4.8);
 txt(o.lx,o.ly,o.L,8,"start");
 o.top.forEach(function(s){txt(s[0],s[1],s[2],4.8)});
 for(var i=0;i<2;i++){
  var cx=o.xs[i],pts=o.pts[i].slice();
  for(var j=0;j<o.n;j++)pts.push(rnd()*o.low);
  pts.forEach(function(v){el("circle",{cx:cx+(rnd()-0.5)*12,cy:Y(v),r:1.4,fill:"#fff",stroke:"#111","stroke-width":0.6})});
  el("line",{x1:cx-6,y1:Y(o.m[i]),x2:cx+6,y2:Y(o.m[i]),stroke:"#111","stroke-width":0.8});
  el("line",{x1:cx,y1:Y(o.m[i]),x2:cx,y2:Y(o.sd[i]),stroke:"#111","stroke-width":0.4});
  el("line",{x1:cx-3,y1:Y(o.sd[i]),x2:cx+3,y2:Y(o.sd[i]),stroke:"#111","stroke-width":0.6});
 }
 el("path",{d:"M"+o.xs[0]+" "+o.bk[1]+" V"+o.bk[0]+" H"+o.xs[1]+" V"+o.bk[2],fill:"none",stroke:"#111","stroke-width":0.5});
}
chart({ax:880,yt:519,yb:598,xs:[897,925],lab:["C1D1","C1D5"],L:"A",lx:849,ly:514,top:[[911,516,"n=45"],[911,526,"0.076"]],pts:[[205,188,80,70],[298,265,150,70,60]],n:14,low:45,m:[25,38],sd:[65,100],bk:[530,560,540]});
chart({ax:995,yt:519,yb:598,xs:[1015,1043],lab:["C1D1","C1D5"],L:"C",lx:966,ly:514,top:[[1028,510,"PR+SD"],[1028,518,"n=34"],[1028,526,"0.063"]],pts:[[185,70],[298,150,70,60]],n:13,low:45,m:[20,32],sd:[52,88],bk:[530,560,537]});
chart({ax:1100,yt:519,yb:598,xs:[1119,1147],lab:["C1D1","C1D5"],L:"E",lx:1075,ly:514,top:[[1133,511,"PD"],[1133,522,"n=6"],[1133,532,"0.33"]],pts:[[10,15,20,30,5,8],[262,38,32,8,5,2]],n:0,low:10,m:[12,60],sd:[25,160],bk:[535,592,550]});
chart({ax:882,yt:688,yb:768,xs:[905,932],lab:["C2D1","C2D5"],L:"B",lx:851,ly:681,top:[[918,690,"n=39"],[918,712,"0.052"]],pts:[[205,195,110,80,60],[90,85,70]],n:14,low:45,m:[32,20],sd:[78,42],bk:[716,736,750]});
chart({ax:995,yt:688,yb:768,xs:[1022,1050],lab:["C2D1","C2D5"],L:"D",lx:968,ly:681,top:[[1035,678,"PR+SD"],[1035,688,"n=33"],[1035,704,"*"],[1037,714,"0.038"]],pts:[[205,195,110,80,60],[90,85,70]],n:13,low:45,m:[32,20],sd:[80,40],bk:[718,740,750]});
chart({ax:1100,yt:688,yb:768,xs:[1120,1150],lab:["C2D1","C2D5"],L:"F",lx:1073,ly:681,top:[[1135,678,"PD"],[1135,688,"n=6"],[1135,740,"0.69"]],pts:[[60,35,20,10,5,15],[45,40,35,20,10,5]],n:0,low:10,m:[25,30],sd:[48,44],bk:[744,752,752]});
el("path",{d:"M943 555 H957",stroke:"#111","stroke-width":0.6,"marker-end":"url(#ar2)"});
el("path",{d:"M944 721 H958",stroke:"#111","stroke-width":0.6,"marker-end":"url(#ar2)"});
var q=document.getElementById("qr"),s="";seed=11;
function sq(x,y){s+='<rect x="'+(x*4+1)+'" y="'+(y*4)+'" width="4" height="4" fill="#000"/>'}
for(var y=0;y<25;y++)for(var x=0;x<25;x++){var f=(x<8&&y<8)||(x>16&&y<8)||(x<8&&y>16);if(!f&&rnd()<0.5)sq(x,y)}
[[0,0],[17*4,0],[0,17*4]].forEach(function(p){s+='<rect x="'+(p[0]+3)+'" y="'+(p[1]+2)+'" width="24" height="24" fill="none" stroke="#000" stroke-width="4"/><rect x="'+(p[0]+9)+'" y="'+(p[1]+8)+'" width="12" height="12" fill="#000"/>'});
q.innerHTML=s;
})();
</script>
</body></html>
